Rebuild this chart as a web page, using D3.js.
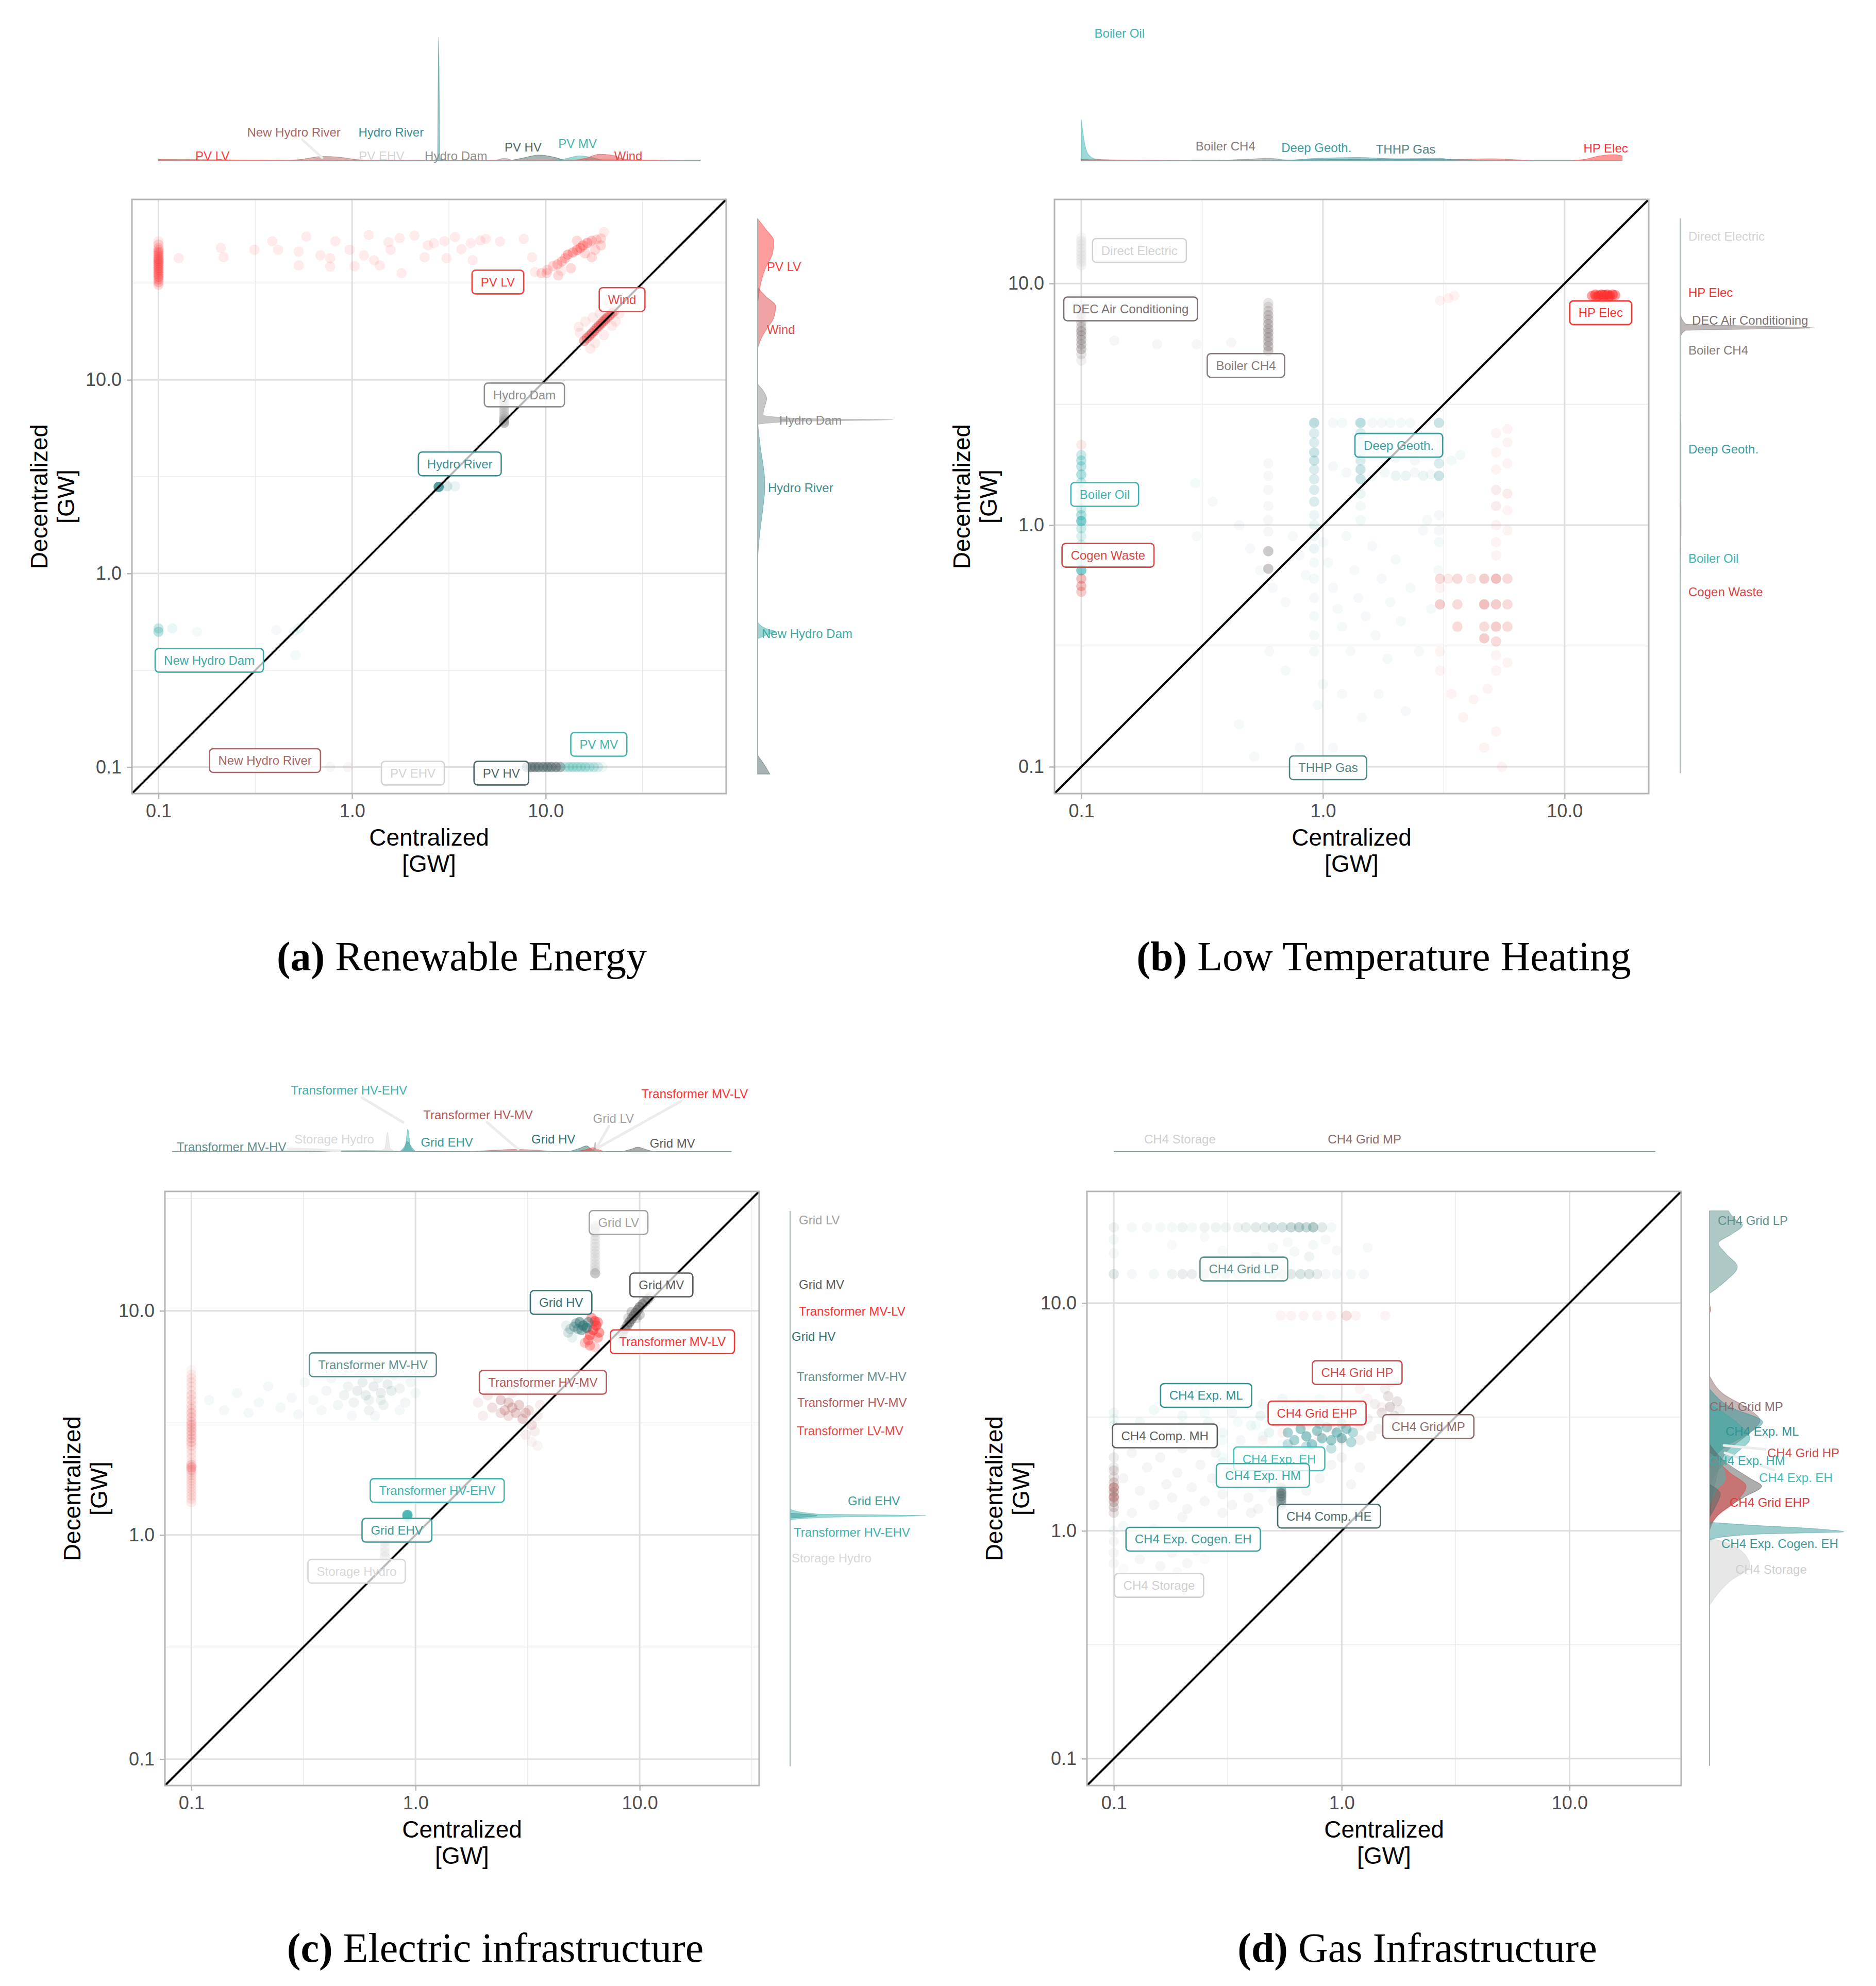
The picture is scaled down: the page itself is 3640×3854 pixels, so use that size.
<!DOCTYPE html>
<html>
<head>
<meta charset="utf-8">
<script src="https://cdn.jsdelivr.net/npm/d3@7"></script>
<style>
  body { margin: 0; background: #fff; }
  svg text { font-family: "Liberation Sans", Arial, sans-serif; }
</style>
</head>
<body>
<svg id="chart" width="3640" height="3854"></svg>
<script>
// ---------- data ----------
const ticks = [0.1, 1, 10]
const tickText = ['0.1', '1.0', '10.0']

// (a) renewable energy: [category, centralized GW, decentralized GW, overlapping runs]
const renewCats = ['PV LV', 'Wind', 'Hydro Dam', 'Hydro River', 'New Hydro Dam', 'New Hydro River', 'PV EHV', 'PV HV', 'PV MV']
const renewPoints = [
  ['PV LV',0.1,31,2],['PV LV',0.1,32,3],['PV LV',0.1,33,3],['PV LV',0.1,34,4],['PV LV',0.1,35,4],['PV LV',0.1,36,4],['PV LV',0.1,37,4],
  ['PV LV',0.1,38,4],['PV LV',0.1,39,4],['PV LV',0.1,40,4],['PV LV',0.1,41,4],['PV LV',0.1,42,4],['PV LV',0.1,43,3],['PV LV',0.1,44,3],
  ['PV LV',0.1,45,3],['PV LV',0.1,46,3],['PV LV',0.1,47,2],['PV LV',0.1,48,2],['PV LV',0.1,50,2],['PV LV',0.1,52,1],
  ['PV LV',0.127,42.5,1],['PV LV',0.21,48,1],['PV LV',0.217,43,1],['PV LV',0.313,47,1],['PV LV',0.387,52,1],['PV LV',0.415,47,1],
  ['PV LV',0.53,46,1],['PV LV',0.53,39,1],['PV LV',0.58,55,1],['PV LV',0.686,44,1],['PV LV',0.77,42.5,1],['PV LV',0.77,38.5,1],
  ['PV LV',0.82,52,1],['PV LV',0.97,47,1],['PV LV',1.03,38.7,1],['PV LV',1.15,44,1],['PV LV',1.22,56,1],['PV LV',1.3,41.5,1],
  ['PV LV',1.39,39,1],['PV LV',1.54,51.5,1],['PV LV',1.58,47,1],['PV LV',1.76,54,1],['PV LV',1.8,35.6,1],['PV LV',2.1,55.6,1],
  ['PV LV',2.37,43,1],['PV LV',2.46,49.5,1],['PV LV',2.64,50.8,1],['PV LV',3.0,52,1],['PV LV',3.07,42.5,1],['PV LV',3.4,54.7,1],
  ['PV LV',3.67,47.3,1],['PV LV',4.1,50.8,1],['PV LV',4.2,41.5,1],['PV LV',4.6,52.5,1],['PV LV',4.9,53.5,1],['PV LV',5.8,51.8,1],
  ['PV LV',7.7,53.5,1],['PV LV',8.5,43,1],['PV LV',8.8,36,1],['PV LV',9.5,35.6,2],['PV LV',10.2,37,2],['PV LV',10.9,38.7,2],
  ['PV LV',11.5,39.5,3],['PV LV',12.1,40.9,3],['PV LV',12.6,42.5,3],['PV LV',13,44.3,4],['PV LV',13.8,45.5,4],['PV LV',14.5,46.8,4],
  ['PV LV',15.1,48,4],['PV LV',15.6,49.5,4],['PV LV',16.4,51,4],['PV LV',17.3,52.3,3],['PV LV',18.3,53,2],['PV LV',19.3,53.7,2],
  ['PV LV',19.3,49.5,2],['PV LV',17.3,43,2],['PV LV',16,45,2],['PV LV',13.5,37.7,2],['PV LV',11.6,34.6,2],['PV LV',10.1,35.6,2],
  ['PV LV',14.5,52.3,2],['PV LV',20,58,1],['PV LV',18,47,2],['PV LV',12,36.5,1],
  ['Wind',15.8,15.9,5],['Wind',16.3,16.4,5],['Wind',16.8,16.9,6],['Wind',17.3,17.4,6],['Wind',17.8,17.9,6],['Wind',18.3,18.5,6],
  ['Wind',18.8,19,6],['Wind',19.3,19.5,6],['Wind',19.8,20,6],['Wind',20.3,20.5,6],['Wind',20.8,21,5],['Wind',21.4,21.5,5],
  ['Wind',22,22.1,4],['Wind',22.6,22.6,3],
  ['Wind',15,17.5,1],['Wind',14.8,18.8,1],['Wind',16,20,1],['Wind',18,15.5,1],['Wind',20,17,1],['Wind',22,19,1],['Wind',21,25,1],
  ['Wind',17,14.5,1],['Wind',19,22,1],['Wind',23,20,1],['Wind',17.5,21,1],['Wind',24,22,1],
  ['Hydro Dam',6.1,6.0,8],['Hydro Dam',6.1,6.15,5],['Hydro Dam',6.1,6.3,4],['Hydro Dam',6.1,6.5,3],['Hydro Dam',6.1,6.7,2],
  ['Hydro Dam',6.1,6.9,2],['Hydro Dam',6.1,7.1,2],['Hydro Dam',6.1,7.3,2],['Hydro Dam',6.1,7.5,2],['Hydro Dam',6.1,7.7,2],
  ['Hydro Dam',6.1,7.9,2],['Hydro Dam',6.1,8.1,1],
  ['Hydro River',2.8,2.8,20],['Hydro River',3.1,2.82,2],['Hydro River',3.4,2.82,1],
  ['New Hydro Dam',0.1,0.5,4],['New Hydro Dam',0.1,0.52,3],['New Hydro Dam',0.118,0.52,1],['New Hydro Dam',0.158,0.5,0.6],
  ['New Hydro Dam',0.407,0.51,0.6],['New Hydro Dam',0.5,0.5,0.6],['New Hydro Dam',0.53,0.52,1],['New Hydro Dam',0.51,0.378,0.6],
  ['New Hydro River',0.6,0.1,0.6],['New Hydro River',0.77,0.1,0.6],['New Hydro River',0.95,0.1,0.6],
  ['PV EHV',1.6,0.1,1],['PV EHV',2.2,0.1,1],
  ['PV HV',8.0,0.1,6],['PV HV',8.4,0.1,8],['PV HV',8.8,0.1,8],['PV HV',9.2,0.1,8],['PV HV',9.7,0.1,8],['PV HV',10.2,0.1,8],
  ['PV HV',10.7,0.1,8],['PV HV',11.3,0.1,8],['PV HV',11.9,0.1,6],
  ['PV MV',12.6,0.1,3],['PV MV',13.2,0.1,4],['PV MV',13.8,0.1,4],['PV MV',14.5,0.1,4],['PV MV',15.2,0.1,4],['PV MV',16,0.1,4],
  ['PV MV',16.8,0.1,3],['PV MV',17.7,0.1,3],['PV MV',18.6,0.1,2],['PV MV',19.6,0.1,1]
]
// marginal densities: [category, value, relative density]
const renewTop = [
  ['PV LV',0.1,0.012],['PV LV',0.3,0.006],['PV LV',1,0.004],['PV LV',3,0.003],['PV LV',10,0.006],['PV LV',20,0.008],['PV LV',63,0],
  ['New Hydro River',0.45,0],['New Hydro River',0.55,0.012],['New Hydro River',0.7,0.035],['New Hydro River',0.85,0.03],['New Hydro River',1.05,0.01],['New Hydro River',1.3,0],
  ['Hydro River',2.6,0],['Hydro River',2.76,0.02],['Hydro River',2.8,1],['Hydro River',2.84,0.02],['Hydro River',3.0,0],
  ['Hydro Dam',5.5,0],['Hydro Dam',6.1,0.02],['Hydro Dam',6.8,0],
  ['PV HV',6.5,0],['PV HV',7.5,0.02],['PV HV',9.2,0.046],['PV HV',11,0.03],['PV HV',12.5,0.005],['PV HV',13,0],
  ['PV MV',11,0],['PV MV',12.5,0.015],['PV MV',15,0.04],['PV MV',17.5,0.025],['PV MV',20,0],
  ['Wind',14,0],['Wind',16,0.02],['Wind',19,0.053],['Wind',22,0.045],['Wind',26,0.01],['Wind',35,0.003],['Wind',63,0]
]
const renewSide = [
  ['PV LV',68,0],['PV LV',60,0.06],['PV LV',52,0.12],['PV LV',45,0.11],['PV LV',38,0.06],['PV LV',32,0.025],['PV LV',28,0.01],['PV LV',25,0],
  ['Wind',30,0],['Wind',27,0.06],['Wind',24,0.133],['Wind',21,0.12],['Wind',18,0.06],['Wind',16,0.02],['Wind',14.5,0],
  ['Hydro Dam',9.5,0],['Hydro Dam',8.6,0.05],['Hydro Dam',8.0,0.067],['Hydro Dam',7.2,0.05],['Hydro Dam',6.6,0.04],['Hydro Dam',6.32,0.3],
  ['Hydro Dam',6.22,1],['Hydro Dam',6.12,0.3],['Hydro Dam',5.9,0],
  ['Hydro River',6,0],['Hydro River',4.5,0.02],['Hydro River',3.2,0.05],['Hydro River',2.8,0.053],['Hydro River',2.2,0.04],['Hydro River',1.6,0.015],['Hydro River',1.2,0],
  ['New Hydro Dam',0.56,0],['New Hydro Dam',0.52,0.06],['New Hydro Dam',0.5,0.133],['New Hydro Dam',0.48,0.06],['New Hydro Dam',0.46,0],
  ['PV HV',0.115,0],['PV HV',0.1,0.06],['PV HV',0.092,0.09]
]

// (b) low temperature heating
const heatCats = ['Direct Electric', 'DEC Air Conditioning', 'Boiler CH4', 'HP Elec', 'Deep Geoth.', 'Boiler Oil', 'Cogen Waste', 'THHP Gas']
const heatPoints = [
  ['THHP Gas',0.45,1.0,0.5],['THHP Gas',0.5,0.8,0.5],['THHP Gas',0.55,0.65,0.5],['THHP Gas',0.62,0.55,0.5],['THHP Gas',0.7,0.48,0.5],['THHP Gas',0.75,0.9,0.5],
  ['THHP Gas',0.8,0.75,0.5],['THHP Gas',0.85,0.62,0.5],['THHP Gas',1.0,0.85,0.5],['THHP Gas',1.05,0.7,0.5],['THHP Gas',1.1,0.55,0.5],['THHP Gas',1.15,0.45,0.5],
  ['THHP Gas',1.2,0.38,0.5],['THHP Gas',1.25,0.9,0.5],['THHP Gas',1.3,0.3,0.5],['THHP Gas',1.35,0.65,0.5],['THHP Gas',1.4,0.5,0.5],['THHP Gas',1.5,0.42,0.5],
  ['THHP Gas',1.6,0.82,0.5],['THHP Gas',1.65,0.35,0.5],['THHP Gas',1.75,0.6,0.5],['THHP Gas',1.85,0.28,0.5],['THHP Gas',1.9,0.48,0.5],['THHP Gas',2.0,0.72,0.5],
  ['THHP Gas',2.1,0.4,0.5],['THHP Gas',2.3,0.55,0.5],['THHP Gas',2.5,0.3,0.5],['THHP Gas',2.6,0.95,0.5],['THHP Gas',2.8,0.45,0.5],['THHP Gas',3.0,0.65,0.5],
  ['THHP Gas',1.0,0.22,0.5],['THHP Gas',0.95,0.18,0.5],['THHP Gas',1.2,0.2,0.5],['THHP Gas',0.7,0.25,0.5],['THHP Gas',0.6,0.3,0.5],['THHP Gas',1.45,0.16,0.5],
  ['THHP Gas',1.7,0.2,0.5],['THHP Gas',2.2,0.17,0.5],['THHP Gas',0.52,0.11,0.5],['THHP Gas',0.8,0.12,0.5],['THHP Gas',1.1,0.12,0.5],['THHP Gas',0.45,0.15,0.5],
  ['THHP Gas',0.4,0.4,0.5],['THHP Gas',0.35,1.25,0.5],['THHP Gas',2.7,1.05,0.5],['THHP Gas',0.3,0.9,0.5],
  ['Direct Electric',0.1,11.9,3],['Direct Electric',0.1,12.3,3],['Direct Electric',0.1,12.7,3],['Direct Electric',0.1,13.1,3],['Direct Electric',0.1,13.5,3],
  ['Direct Electric',0.1,14,3],['Direct Electric',0.1,14.5,3],['Direct Electric',0.1,15,3],['Direct Electric',0.1,15.5,2],
  ['DEC Air Conditioning',0.1,4.8,1],['DEC Air Conditioning',0.1,5.1,2],['DEC Air Conditioning',0.1,5.35,4],['DEC Air Conditioning',0.1,5.6,4],
  ['DEC Air Conditioning',0.1,5.85,4],['DEC Air Conditioning',0.1,6.1,4],['DEC Air Conditioning',0.1,6.35,5],['DEC Air Conditioning',0.1,6.6,3],
  ['DEC Air Conditioning',0.1,6.9,3],['DEC Air Conditioning',0.1,7.2,2],['DEC Air Conditioning',0.1,7.5,2],['DEC Air Conditioning',0.1,7.8,2],
  ['DEC Air Conditioning',0.1,8.1,1],['DEC Air Conditioning',0.137,5.8,0.6],['DEC Air Conditioning',0.206,5.6,0.6],
  ['DEC Air Conditioning',0.3,5.6,0.6],['DEC Air Conditioning',0.417,5.7,0.6],
  ['Boiler CH4',0.594,5.25,5],['Boiler CH4',0.594,5.5,5],['Boiler CH4',0.594,5.75,5],['Boiler CH4',0.594,6.0,5],['Boiler CH4',0.594,6.25,5],
  ['Boiler CH4',0.594,6.5,5],['Boiler CH4',0.594,6.8,5],['Boiler CH4',0.594,7.1,4],['Boiler CH4',0.594,7.4,4],['Boiler CH4',0.594,7.7,3],
  ['Boiler CH4',0.594,8.0,2],['Boiler CH4',0.594,8.3,2],['Boiler CH4',0.594,1.8,0.6],['Boiler CH4',0.594,1.6,0.6],
  ['Boiler CH4',0.594,1.4,0.6],['Boiler CH4',0.594,1.2,0.6],['Boiler CH4',0.594,1.05,0.6],['Boiler CH4',0.594,0.94,0.6],['Boiler CH4',0.594,0.78,5],['Boiler CH4',0.594,0.66,5],
  ['HP Elec',13.0,8.9,6],['HP Elec',13.4,9.0,8],['HP Elec',13.8,8.9,10],['HP Elec',14.2,9.0,10],['HP Elec',14.6,8.95,10],['HP Elec',15.0,9.0,10],
  ['HP Elec',15.4,8.9,10],['HP Elec',15.8,9.0,8],['HP Elec',16.2,8.95,6],['HP Elec',14.4,8.7,5],['HP Elec',15.2,8.75,5],
  ['HP Elec',13.5,8.8,5],['HP Elec',3.05,8.5,0.6],['HP Elec',3.3,8.7,0.6],['HP Elec',3.5,8.9,0.6],
  ['Deep Geoth.',0.92,2.65,4],['Deep Geoth.',0.92,2.4,2],['Deep Geoth.',0.92,2.2,2],['Deep Geoth.',0.92,2.0,3],['Deep Geoth.',0.92,1.85,3],
  ['Deep Geoth.',0.92,1.7,2],['Deep Geoth.',0.92,1.55,2],['Deep Geoth.',0.92,1.4,2],['Deep Geoth.',0.92,1.25,2],['Deep Geoth.',0.92,1.1,1],
  ['Deep Geoth.',0.92,1.0,1],['Deep Geoth.',0.92,0.9,1],['Deep Geoth.',0.92,0.8,1],['Deep Geoth.',0.92,0.7,0.6],['Deep Geoth.',0.92,0.6,0.6],
  ['Deep Geoth.',0.92,0.5,0.6],['Deep Geoth.',0.92,0.42,0.6],['Deep Geoth.',0.92,0.35,0.6],['Deep Geoth.',0.92,0.3,0.6],
  ['Deep Geoth.',1.43,2.65,4],['Deep Geoth.',1.43,2.4,2],['Deep Geoth.',1.43,2.2,2],['Deep Geoth.',1.43,2.0,2],['Deep Geoth.',1.43,1.85,2],
  ['Deep Geoth.',1.43,1.7,3],['Deep Geoth.',1.43,1.55,3],['Deep Geoth.',1.43,1.35,1],['Deep Geoth.',1.43,1.2,0.6],['Deep Geoth.',1.43,1.05,0.6],
  ['Deep Geoth.',3.02,2.65,3],['Deep Geoth.',3.02,2.3,1],['Deep Geoth.',3.02,2.0,1],['Deep Geoth.',3.02,1.8,2],['Deep Geoth.',3.02,1.6,3],
  ['Deep Geoth.',3.02,1.1,0.6],['Deep Geoth.',3.02,0.95,0.6],['Deep Geoth.',3.02,0.85,0.6],
  ['Deep Geoth.',1.1,2.65,0.6],['Deep Geoth.',1.2,2.65,0.6],['Deep Geoth.',1.6,2.65,0.6],['Deep Geoth.',1.75,2.65,0.6],['Deep Geoth.',1.9,2.65,0.6],
  ['Deep Geoth.',2.1,2.65,0.6],['Deep Geoth.',2.3,2.65,0.6],['Deep Geoth.',1.1,1.75,0.6],['Deep Geoth.',1.25,1.65,0.6],['Deep Geoth.',1.6,1.6,0.6],
  ['Deep Geoth.',1.8,1.65,0.6],['Deep Geoth.',2.0,1.6,1],['Deep Geoth.',2.2,1.6,1],['Deep Geoth.',2.4,1.65,0.6],['Deep Geoth.',2.6,1.6,1],
  ['Deep Geoth.',2.8,1.62,0.6],['Deep Geoth.',2.4,1.85,0.6],['Deep Geoth.',2.0,1.9,0.6],['Deep Geoth.',3.7,1.95,0.6],['Deep Geoth.',3.4,1.85,0.6],
  ['Boiler Oil',0.1,1.95,3],['Boiler Oil',0.1,1.85,4],['Boiler Oil',0.1,1.75,4],['Boiler Oil',0.1,1.62,5],['Boiler Oil',0.1,1.5,3],
  ['Boiler Oil',0.1,1.38,2],['Boiler Oil',0.1,1.27,2],['Boiler Oil',0.1,1.17,3],['Boiler Oil',0.1,1.1,5],['Boiler Oil',0.1,1.04,10],
  ['Boiler Oil',0.1,0.97,3],['Boiler Oil',0.1,0.9,2],['Boiler Oil',0.1,0.83,2],['Boiler Oil',0.1,0.76,2],['Boiler Oil',0.1,0.7,3],
  ['Boiler Oil',0.1,0.65,10],['Boiler Oil',0.296,1.49,0.6],
  ['Cogen Waste',0.1,2.15,1],['Cogen Waste',0.1,0.6,4],['Cogen Waste',0.1,0.56,4],['Cogen Waste',0.1,0.53,3],
  ['Cogen Waste',3.05,0.6,2],['Cogen Waste',3.3,0.6,1],['Cogen Waste',3.6,0.6,2],['Cogen Waste',4.1,0.6,1],['Cogen Waste',4.65,0.6,3],
  ['Cogen Waste',5.2,0.6,4],['Cogen Waste',5.8,0.6,2],['Cogen Waste',3.05,0.47,3],['Cogen Waste',3.6,0.47,2],['Cogen Waste',4.65,0.47,4],
  ['Cogen Waste',5.2,0.47,3],['Cogen Waste',5.8,0.47,2],['Cogen Waste',3.6,0.38,2],['Cogen Waste',4.65,0.38,2],['Cogen Waste',5.2,0.38,3],
  ['Cogen Waste',5.8,0.38,2],['Cogen Waste',4.65,0.34,3],['Cogen Waste',5.2,0.33,2],
  ['Cogen Waste',5.2,2.4,0.6],['Cogen Waste',5.2,2.0,0.6],['Cogen Waste',5.2,1.7,0.6],['Cogen Waste',5.2,1.4,1],['Cogen Waste',5.2,1.2,1],
  ['Cogen Waste',5.2,1.0,0.6],['Cogen Waste',5.2,0.85,0.6],['Cogen Waste',5.2,0.75,0.6],['Cogen Waste',5.2,0.29,0.6],['Cogen Waste',5.2,0.25,0.6],
  ['Cogen Waste',5.2,0.14,0.6],['Cogen Waste',5.8,2.5,0.6],['Cogen Waste',5.8,2.2,0.6],['Cogen Waste',5.8,1.8,0.6],['Cogen Waste',5.8,1.35,1],
  ['Cogen Waste',5.8,1.15,0.6],['Cogen Waste',5.8,0.95,0.6],['Cogen Waste',5.8,0.27,0.6],['Cogen Waste',4.2,0.19,0.6],['Cogen Waste',4.8,0.21,0.6],
  ['Cogen Waste',3.8,0.16,0.6],['Cogen Waste',4.65,0.12,0.6],['Cogen Waste',3.4,0.2,0.6],['Cogen Waste',5.5,0.1,0.6],['Cogen Waste',3.05,0.25,0.6],
  ['Cogen Waste',3.05,0.3,0.6],['Cogen Waste',3.05,0.55,0.6]
]
const heatTop = [
  ['Boiler Oil',0.1,1],['Boiler Oil',0.103,0.45],['Boiler Oil',0.107,0.15],['Boiler Oil',0.115,0.04],['Boiler Oil',0.15,0.01],['Boiler Oil',0.3,0],
  ['Cogen Waste',0.1,0.03],['Cogen Waste',0.2,0.01],['Cogen Waste',0.5,0],
  ['Boiler CH4',0.35,0],['Boiler CH4',0.5,0.04],['Boiler CH4',0.6,0.06],['Boiler CH4',0.7,0.02],['Boiler CH4',0.9,0],
  ['THHP Gas',0.4,0],['THHP Gas',1,0.03],['THHP Gas',2,0.04],['THHP Gas',4,0.02],['THHP Gas',6,0],
  ['Deep Geoth.',0.7,0],['Deep Geoth.',0.95,0.06],['Deep Geoth.',1.4,0.08],['Deep Geoth.',2,0.05],['Deep Geoth.',3,0.06],['Deep Geoth.',3.6,0],
  ['Cogen Waste',2.5,0],['Cogen Waste',3.5,0.03],['Cogen Waste',5,0.05],['Cogen Waste',6.5,0.02],['Cogen Waste',8,0],
  ['HP Elec',10,0],['HP Elec',12,0.03],['HP Elec',14,0.12],['HP Elec',16,0.15],['HP Elec',17.3,0.12]
]
const heatSide = [
  ['DEC Air Conditioning',7.5,0],['DEC Air Conditioning',6.8,0.04],['DEC Air Conditioning',6.55,1],['DEC Air Conditioning',6.4,0.04],['DEC Air Conditioning',6,0],
  ['Deep Geoth.',3,0],['Deep Geoth.',2.6,0.006],['Deep Geoth.',1,0.006],['Deep Geoth.',0.36,0],
  ['Cogen Waste',1.3,0],['Cogen Waste',1.2,0.006],['Cogen Waste',0.8,0.006],['Cogen Waste',0.75,0]
]

// (c) electric infrastructure
const gridCats = ['Grid LV', 'Grid MV', 'Grid HV', 'Transformer MV-LV', 'Transformer MV-HV', 'Transformer HV-MV', 'Transformer LV-MV', 'Transformer HV-EHV', 'Grid EHV', 'Storage Hydro']
const gridPoints = [
  ['Transformer MV-HV',0.12,4.0,0.6],['Transformer MV-HV',0.14,3.6,0.6],['Transformer MV-HV',0.16,4.3,0.6],['Transformer MV-HV',0.18,3.5,0.6],
  ['Transformer MV-HV',0.2,3.9,0.6],['Transformer MV-HV',0.22,4.6,0.6],['Transformer MV-HV',0.25,3.7,0.6],['Transformer MV-HV',0.28,4.1,0.6],
  ['Transformer MV-HV',0.3,3.45,0.6],['Transformer MV-HV',0.32,4.8,0.6],['Transformer MV-HV',0.35,4.0,0.6],['Transformer MV-HV',0.38,3.6,0.6],
  ['Transformer MV-HV',0.4,4.4,0.8],['Transformer MV-HV',0.42,5.0,0.6],['Transformer MV-HV',0.45,3.8,0.8],['Transformer MV-HV',0.48,4.2,1],
  ['Transformer MV-HV',0.5,4.6,1],['Transformer MV-HV',0.53,3.9,1],['Transformer MV-HV',0.55,4.4,1.5],['Transformer MV-HV',0.58,4.8,1.5],
  ['Transformer MV-HV',0.6,4.2,1.5],['Transformer MV-HV',0.62,3.6,1],['Transformer MV-HV',0.65,4.6,1.5],['Transformer MV-HV',0.68,5.0,1],
  ['Transformer MV-HV',0.7,4.3,1.5],['Transformer MV-HV',0.72,3.8,1],['Transformer MV-HV',0.75,4.7,1.5],['Transformer MV-HV',0.78,4.4,1.5],
  ['Transformer MV-HV',0.8,5.2,1],['Transformer MV-HV',0.85,4.5,1],['Transformer MV-HV',0.9,3.9,0.8],['Transformer MV-HV',0.95,4.8,0.8],
  ['Transformer MV-HV',1.0,4.3,0.6],['Transformer MV-HV',1.1,5.3,0.6],['Transformer MV-HV',0.52,3.4,0.6],['Transformer MV-HV',0.66,3.4,0.6],
  ['Transformer MV-HV',0.85,3.6,0.6],['Transformer MV-HV',0.9,5.6,0.6],['Transformer MV-HV',0.62,4.0,1],['Transformer MV-HV',0.7,4.0,1],
  ['Transformer HV-MV',1.9,3.9,1],['Transformer HV-MV',2.1,4.2,1.5],['Transformer HV-MV',2.2,3.7,2],['Transformer HV-MV',2.4,4.0,3],
  ['Transformer HV-MV',2.5,3.6,3],['Transformer HV-MV',2.6,3.9,3],['Transformer HV-MV',2.7,3.7,3],['Transformer HV-MV',2.8,3.5,3],
  ['Transformer HV-MV',2.9,3.8,3],['Transformer HV-MV',3.0,3.3,3],['Transformer HV-MV',3.1,3.5,3],['Transformer HV-MV',3.2,3.6,2],
  ['Transformer HV-MV',3.3,3.1,2],['Transformer HV-MV',3.5,3.4,1],['Transformer HV-MV',2.6,3.4,2],['Transformer HV-MV',2.4,3.5,2],
  ['Transformer HV-MV',3.4,2.9,1],['Transformer HV-MV',3.1,2.8,1],['Transformer HV-MV',2.3,4.4,1],['Transformer HV-MV',2.7,4.3,1],
  ['Transformer HV-MV',3.6,3.8,1],['Transformer HV-MV',2.0,3.4,1],['Transformer HV-MV',3.3,2.6,0.6],['Transformer HV-MV',3.5,2.5,0.6],
  ['Transformer LV-MV',0.1,1.4,1],['Transformer LV-MV',0.1,1.45,1],['Transformer LV-MV',0.1,1.5,1],['Transformer LV-MV',0.1,1.55,1],
  ['Transformer LV-MV',0.1,1.6,1],['Transformer LV-MV',0.1,1.65,1],['Transformer LV-MV',0.1,1.7,1],['Transformer LV-MV',0.1,1.75,1],
  ['Transformer LV-MV',0.1,1.8,1],['Transformer LV-MV',0.1,1.85,1],['Transformer LV-MV',0.1,1.9,1],['Transformer LV-MV',0.1,1.95,2],
  ['Transformer LV-MV',0.1,2.0,3],['Transformer LV-MV',0.1,2.05,2],['Transformer LV-MV',0.1,2.1,1],['Transformer LV-MV',0.1,2.2,1],
  ['Transformer LV-MV',0.1,2.3,1],['Transformer LV-MV',0.1,2.4,1],['Transformer LV-MV',0.1,2.5,1.5],['Transformer LV-MV',0.1,2.6,2],
  ['Transformer LV-MV',0.1,2.7,2],['Transformer LV-MV',0.1,2.8,2],['Transformer LV-MV',0.1,2.9,2],['Transformer LV-MV',0.1,3.0,2],
  ['Transformer LV-MV',0.1,3.1,2],['Transformer LV-MV',0.1,3.2,2],['Transformer LV-MV',0.1,3.35,2],['Transformer LV-MV',0.1,3.5,2],
  ['Transformer LV-MV',0.1,3.65,1.5],['Transformer LV-MV',0.1,3.8,1.5],['Transformer LV-MV',0.1,4.0,1.5],['Transformer LV-MV',0.1,4.2,1.5],
  ['Transformer LV-MV',0.1,4.4,1],['Transformer LV-MV',0.1,4.6,1],['Transformer LV-MV',0.1,4.8,1],['Transformer LV-MV',0.1,5.0,1],
  ['Transformer LV-MV',0.1,5.2,0.7],['Transformer LV-MV',0.1,5.45,0.5],
  ['Grid LV',6.33,14.7,8],['Grid LV',6.33,15.2,2],['Grid LV',6.33,15.7,1.5],['Grid LV',6.33,16.2,1.5],['Grid LV',6.33,16.8,1.5],
  ['Grid LV',6.33,17.4,1.5],['Grid LV',6.33,18,1.5],['Grid LV',6.33,18.6,1.5],['Grid LV',6.33,19.3,1.5],['Grid LV',6.33,20,1.5],
  ['Grid LV',6.33,20.8,1.5],['Grid LV',6.33,21.6,1.5],['Grid LV',6.33,22.4,2],['Grid LV',6.33,23.3,3],['Grid LV',6.33,24,3],
  ['Grid MV',8.2,7.6,2],['Grid MV',8.4,8.0,3],['Grid MV',8.6,8.3,5],['Grid MV',8.8,8.6,6],['Grid MV',9.0,8.9,7],['Grid MV',9.2,9.2,7],
  ['Grid MV',9.4,9.5,7],['Grid MV',9.6,9.8,7],['Grid MV',9.8,10.1,7],['Grid MV',10.0,10.4,7],['Grid MV',10.3,10.7,6],['Grid MV',10.6,11.0,5],
  ['Grid MV',10.9,11.3,4],['Grid MV',11.2,11.6,2],['Grid MV',10.0,9.6,3],['Grid MV',9.2,9.9,3],['Grid MV',8.9,9.3,2],['Grid MV',9.7,9.3,2],
  ['Transformer MV-LV',6.1,9.3,5],['Transformer MV-LV',6.3,9.0,8],['Transformer MV-LV',6.4,8.6,8],['Transformer MV-LV',6.2,8.2,8],
  ['Transformer MV-LV',6.0,7.8,7],['Transformer MV-LV',5.9,7.4,5],['Transformer MV-LV',6.0,7.0,4],['Transformer MV-LV',6.5,7.6,4],
  ['Transformer MV-LV',6.6,8.0,6],['Transformer MV-LV',5.7,7.2,3],['Transformer MV-LV',6.3,6.9,2],['Transformer MV-LV',6.5,8.9,5],
  ['Grid HV',5.1,8.5,4],['Grid HV',5.4,8.9,7],['Grid HV',5.6,8.6,9],['Grid HV',5.8,8.4,9],['Grid HV',5.5,8.2,6],['Grid HV',5.2,8.8,4],
  ['Grid HV',5.9,8.9,6],['Grid HV',4.8,8.0,2],['Grid HV',4.7,8.6,1],['Grid HV',5.0,7.6,1],['Grid HV',4.9,8.3,2],['Grid HV',5.3,8.3,4],
  ['Storage Hydro',0.73,0.8,4],['Storage Hydro',0.73,0.84,3],['Storage Hydro',0.73,0.88,3],['Storage Hydro',0.73,0.93,3],['Storage Hydro',0.73,0.97,2],
  ['Grid EHV',0.92,1.22,6],['Transformer HV-EHV',0.92,1.23,14],['Transformer HV-EHV',0.92,1.2,4]
]
const gridTop = [
  ['Transformer MV-HV',0.1,0],['Transformer MV-HV',0.15,0.02],['Transformer MV-HV',0.3,0.04],['Transformer MV-HV',0.6,0.05],['Transformer MV-HV',0.8,0.03],['Transformer MV-HV',0.9,0],
  ['Storage Hydro',0.68,0],['Storage Hydro',0.73,0.15],['Storage Hydro',0.75,0.85],['Storage Hydro',0.77,0.15],['Storage Hydro',0.82,0],
  ['Transformer HV-EHV',0.86,0],['Transformer HV-EHV',0.9,0.2],['Transformer HV-EHV',0.924,1],['Transformer HV-EHV',0.95,0.2],['Transformer HV-EHV',0.99,0],
  ['Grid EHV',0.85,0],['Grid EHV',0.89,0.2],['Grid EHV',0.92,0.45],['Grid EHV',0.96,0.2],['Grid EHV',1.0,0],
  ['Transformer HV-MV',1.7,0],['Transformer HV-MV',2.2,0.06],['Transformer HV-MV',2.8,0.1],['Transformer HV-MV',3.4,0.07],['Transformer HV-MV',4.2,0],
  ['Grid HV',4.8,0],['Grid HV',5.4,0.15],['Grid HV',5.8,0.26],['Grid HV',6.1,0.1],['Grid HV',6.4,0],
  ['Transformer MV-LV',5.2,0],['Transformer MV-LV',5.8,0.1],['Transformer MV-LV',6.2,0.18],['Transformer MV-LV',6.6,0.08],['Transformer MV-LV',7,0],
  ['Grid LV',6.0,0],['Grid LV',6.25,0.15],['Grid LV',6.33,0.43],['Grid LV',6.42,0.15],['Grid LV',6.6,0],
  ['Grid MV',8.3,0],['Grid MV',9.2,0.12],['Grid MV',9.8,0.2],['Grid MV',10.5,0.12],['Grid MV',11.5,0]
]
const gridSide = [
  ['Transformer HV-EHV',1.3,0],['Transformer HV-EHV',1.24,0.2],['Transformer HV-EHV',1.22,1],['Transformer HV-EHV',1.2,0.3],['Transformer HV-EHV',1.17,0],
  ['Grid EHV',1.25,0],['Grid EHV',1.22,0.2],['Grid EHV',1.19,0]
]

// (d) gas infrastructure
const gasCats = ['CH4 Grid LP', 'CH4 Grid HP', 'CH4 Exp. ML', 'CH4 Grid EHP', 'CH4 Grid MP', 'CH4 Comp. MH', 'CH4 Exp. EH', 'CH4 Exp. HM', 'CH4 Comp. HE', 'CH4 Exp. Cogen. EH', 'CH4 Storage']
const gasPoints = [
  ['CH4 Storage',0.1,0.9,2],['CH4 Storage',0.1,0.8,2],['CH4 Storage',0.1,0.72,2],['CH4 Storage',0.12,0.85,2],['CH4 Storage',0.13,0.75,2],
  ['CH4 Storage',0.15,0.88,2],['CH4 Storage',0.16,0.7,2],['CH4 Storage',0.18,0.8,2],['CH4 Storage',0.2,0.9,2],['CH4 Storage',0.21,0.72,2],
  ['CH4 Storage',0.23,0.82,2],['CH4 Storage',0.14,0.95,1],['CH4 Storage',0.19,0.66,1],['CH4 Storage',0.25,0.75,1],['CH4 Storage',0.11,0.68,1],
  ['CH4 Grid LP',0.1,21.5,1],['CH4 Grid LP',0.12,21.5,0.6],['CH4 Grid LP',0.14,21.5,0.6],['CH4 Grid LP',0.16,21.5,0.6],['CH4 Grid LP',0.18,21.5,0.6],
  ['CH4 Grid LP',0.2,21.5,1],['CH4 Grid LP',0.22,21.5,0.6],['CH4 Grid LP',0.25,21.5,1],['CH4 Grid LP',0.28,21.5,1],['CH4 Grid LP',0.31,21.5,1],
  ['CH4 Grid LP',0.35,21.5,1],['CH4 Grid LP',0.38,21.5,1.5],['CH4 Grid LP',0.42,21.5,2],['CH4 Grid LP',0.46,21.5,2],['CH4 Grid LP',0.5,21.5,3],
  ['CH4 Grid LP',0.55,21.5,3],['CH4 Grid LP',0.6,21.5,4],['CH4 Grid LP',0.65,21.5,5],['CH4 Grid LP',0.7,21.5,4],['CH4 Grid LP',0.75,21.5,6],
  ['CH4 Grid LP',0.82,21.5,2],['CH4 Grid LP',0.9,21.5,0.6],
  ['CH4 Grid LP',0.1,13.4,2],['CH4 Grid LP',0.12,13.4,0.6],['CH4 Grid LP',0.15,13.4,0.6],['CH4 Grid LP',0.18,13.4,1],['CH4 Grid LP',0.2,13.4,1.5],
  ['CH4 Grid LP',0.22,13.4,1.5],['CH4 Grid LP',0.25,13.4,2],['CH4 Grid LP',0.28,13.4,2],['CH4 Grid LP',0.31,13.4,2],['CH4 Grid LP',0.35,13.4,1.5],
  ['CH4 Grid LP',0.4,13.4,1.5],['CH4 Grid LP',0.45,13.4,1.5],['CH4 Grid LP',0.5,13.4,2],['CH4 Grid LP',0.55,13.4,2],['CH4 Grid LP',0.6,13.4,2],
  ['CH4 Grid LP',0.66,13.4,2.5],['CH4 Grid LP',0.72,13.4,2.5],['CH4 Grid LP',0.78,13.4,1.5],['CH4 Grid LP',0.85,13.4,0.6],['CH4 Grid LP',0.95,13.4,0.6],
  ['CH4 Grid LP',1.1,13.4,0.6],['CH4 Grid LP',1.25,13.4,0.6],
  ['CH4 Grid LP',0.1,16.5,0.6],['CH4 Grid LP',0.1,19,0.6],['CH4 Grid LP',0.18,18,0.4],['CH4 Grid LP',0.3,17,0.4],['CH4 Grid LP',0.42,16,0.5],
  ['CH4 Grid LP',0.5,17.5,0.5],['CH4 Grid LP',0.58,18.5,0.5],['CH4 Grid LP',0.62,16.8,0.6],['CH4 Grid LP',0.72,16,1],['CH4 Grid LP',0.75,18,0.6],
  ['CH4 Grid LP',0.85,19,0.5],['CH4 Grid LP',0.95,17,0.5],['CH4 Grid LP',1.3,17.5,0.5],['CH4 Grid LP',0.25,19.5,0.4],['CH4 Grid LP',0.55,15,0.5],
  ['CH4 Grid HP',0.54,8.8,0.6],['CH4 Grid HP',0.6,8.8,0.6],['CH4 Grid HP',0.68,8.8,0.6],['CH4 Grid HP',0.78,8.8,0.6],['CH4 Grid HP',0.9,8.8,0.6],
  ['CH4 Grid HP',1.05,8.8,2],['CH4 Grid HP',1.15,8.8,0.6],['CH4 Grid HP',1.55,8.8,0.6],['CH4 Grid HP',1.3,3.8,0.6],['CH4 Grid HP',1.5,3.5,0.6],
  ['CH4 Grid HP',1.2,4.2,0.6],['CH4 Grid HP',0.9,3.0,0.6],
  ['CH4 Comp. MH',0.1,2.1,1],['CH4 Comp. MH',0.1,1.9,1],['CH4 Comp. MH',0.11,1.7,0.6],['CH4 Comp. MH',0.12,2.2,0.6],['CH4 Comp. MH',0.13,1.5,0.6],
  ['CH4 Comp. MH',0.14,1.9,0.6],['CH4 Comp. MH',0.15,1.3,0.6],['CH4 Comp. MH',0.16,2.1,0.6],['CH4 Comp. MH',0.17,1.6,0.6],['CH4 Comp. MH',0.18,1.4,0.6],
  ['CH4 Comp. MH',0.19,1.8,0.6],['CH4 Comp. MH',0.2,2.3,0.6],['CH4 Comp. MH',0.21,1.25,0.6],['CH4 Comp. MH',0.22,1.55,0.6],['CH4 Comp. MH',0.24,1.95,0.6],
  ['CH4 Comp. MH',0.25,1.35,0.6],['CH4 Comp. MH',0.27,1.7,0.6],['CH4 Comp. MH',0.28,2.2,0.6],['CH4 Comp. MH',0.3,1.45,0.6],['CH4 Comp. MH',0.32,1.85,0.6],
  ['CH4 Comp. MH',0.33,1.3,0.6],['CH4 Comp. MH',0.35,1.6,0.6],['CH4 Comp. MH',0.37,2.0,0.6],['CH4 Comp. MH',0.39,1.4,0.6],['CH4 Comp. MH',0.41,1.75,0.6],
  ['CH4 Comp. MH',0.43,1.25,0.6],['CH4 Comp. MH',0.45,1.55,0.6],['CH4 Comp. MH',0.47,1.95,0.6],['CH4 Comp. MH',0.5,1.35,0.6],['CH4 Comp. MH',0.52,1.7,0.6],
  ['CH4 Comp. MH',0.55,1.45,0.6],['CH4 Comp. MH',0.58,2.1,0.6],['CH4 Comp. MH',0.6,1.6,0.6],['CH4 Comp. MH',0.65,1.85,0.6],['CH4 Comp. MH',0.7,1.5,0.6],
  ['CH4 Comp. MH',0.75,2.2,0.6],['CH4 Comp. MH',0.8,1.7,0.6],['CH4 Comp. MH',0.9,1.95,0.6],['CH4 Comp. MH',1.0,2.1,0.6],['CH4 Comp. MH',1.1,1.6,0.6],
  ['CH4 Comp. MH',1.2,1.9,0.6],['CH4 Comp. MH',0.12,1.2,0.6],['CH4 Comp. MH',0.2,1.15,0.6],['CH4 Comp. MH',0.3,1.2,0.6],['CH4 Comp. MH',0.4,1.2,0.6],
  ['CH4 Exp. ML',0.1,3.3,0.6],['CH4 Exp. ML',0.13,3.0,0.6],['CH4 Exp. ML',0.15,3.4,0.6],['CH4 Exp. ML',0.18,2.8,0.6],['CH4 Exp. ML',0.2,3.2,0.6],
  ['CH4 Exp. ML',0.23,2.6,0.6],['CH4 Exp. ML',0.26,3.0,0.6],['CH4 Exp. ML',0.3,2.7,0.6],['CH4 Exp. ML',0.33,3.3,0.6],['CH4 Exp. ML',0.36,2.5,0.6],
  ['CH4 Exp. ML',0.4,2.9,0.6],['CH4 Exp. ML',0.44,3.2,1],['CH4 Exp. ML',0.48,2.7,1],['CH4 Exp. ML',0.52,3.0,1],['CH4 Exp. ML',0.56,3.4,0.6],
  ['CH4 Exp. ML',0.45,3.6,0.6],['CH4 Exp. ML',0.62,3.1,1],['CH4 Exp. ML',0.66,3.5,0.6],['CH4 Exp. ML',0.55,3.8,0.6],['CH4 Exp. ML',0.75,3.3,0.6],
  ['CH4 Exp. ML',0.58,2.7,5],['CH4 Exp. ML',0.62,2.5,5],['CH4 Exp. ML',0.66,2.8,6],['CH4 Exp. ML',0.7,2.6,7],['CH4 Exp. ML',0.74,2.4,6],
  ['CH4 Exp. ML',0.78,2.75,6],['CH4 Exp. ML',0.82,2.55,6],['CH4 Exp. ML',0.86,2.85,5],['CH4 Exp. ML',0.9,2.5,6],['CH4 Exp. ML',0.95,2.7,7],
  ['CH4 Exp. ML',1.0,2.55,7],['CH4 Exp. ML',1.05,2.8,6],['CH4 Exp. ML',1.1,2.45,4],['CH4 Exp. ML',1.12,2.7,4],['CH4 Exp. ML',0.58,2.4,3],
  ['CH4 Exp. ML',0.7,2.35,3],['CH4 Exp. ML',0.9,2.3,3],['CH4 Exp. ML',1.0,2.95,3],['CH4 Exp. ML',0.8,2.95,3],
  ['CH4 Grid MP',1.63,3.5,3],['CH4 Grid MP',1.6,3.9,2],['CH4 Grid MP',1.7,3.2,2],['CH4 Grid MP',1.5,3.3,2],['CH4 Grid MP',1.75,3.7,2],
  ['CH4 Grid MP',1.4,3.6,1],['CH4 Grid MP',1.55,4.2,1],['CH4 Grid MP',1.7,2.9,1],['CH4 Grid MP',1.45,2.8,1],['CH4 Grid MP',1.3,3.1,1],
  ['CH4 Grid MP',1.2,2.9,1],['CH4 Grid MP',1.65,4.5,1],['CH4 Grid MP',1.1,3.4,1],['CH4 Grid MP',1.0,3.1,1],['CH4 Grid MP',1.8,3.4,1],
  ['CH4 Grid MP',1.35,2.6,1],['CH4 Grid MP',1.2,2.5,1],
  ['CH4 Grid MP',0.1,1.2,2],['CH4 Grid MP',0.1,1.27,3],['CH4 Grid MP',0.1,1.34,4],['CH4 Grid MP',0.1,1.41,5],['CH4 Grid MP',0.1,1.48,5],
  ['CH4 Grid MP',0.1,1.55,4],['CH4 Grid MP',0.1,1.63,3],['CH4 Grid MP',0.1,1.72,2],['CH4 Grid MP',0.1,1.84,2],
  ['CH4 Grid EHP',0.1,1.4,2],['CH4 Grid EHP',0.1,1.55,2],['CH4 Grid EHP',0.45,2.5,0.6],['CH4 Grid EHP',0.55,2.7,0.6],['CH4 Grid EHP',0.6,2.3,0.6],
  ['CH4 Grid EHP',0.7,2.9,0.6],['CH4 Grid EHP',0.8,2.6,0.6],['CH4 Grid EHP',0.9,2.8,0.6],['CH4 Grid EHP',0.35,2.2,0.6],['CH4 Grid EHP',0.25,2.4,0.6],
  ['CH4 Grid EHP',1.0,2.5,0.6],
  ['CH4 Exp. EH',0.2,2.9,0.6],['CH4 Exp. EH',0.25,3.3,0.6],['CH4 Exp. EH',0.3,2.5,0.6],['CH4 Exp. EH',0.35,3.0,0.6],['CH4 Exp. EH',0.4,2.2,0.6],
  ['CH4 Exp. EH',0.45,2.6,0.6],['CH4 Exp. EH',0.5,3.5,0.6],['CH4 Exp. EH',0.55,2.4,0.6],['CH4 Exp. EH',0.6,3.0,0.6],['CH4 Exp. EH',0.65,3.6,0.6],
  ['CH4 Exp. EH',0.7,3.2,0.6],['CH4 Exp. EH',0.8,3.8,0.6],['CH4 Exp. EH',0.9,3.4,0.6],['CH4 Exp. EH',0.42,2.9,0.6],['CH4 Exp. EH',0.3,2.1,0.6],
  ['CH4 Exp. HM',0.3,2.0,0.6],['CH4 Exp. HM',0.4,1.85,0.6],['CH4 Exp. HM',0.5,2.2,0.6],['CH4 Exp. HM',0.6,1.9,0.6],['CH4 Exp. HM',0.7,2.1,0.6],
  ['CH4 Exp. HM',0.5,1.7,0.6],['CH4 Exp. HM',0.8,2.4,0.6],['CH4 Exp. HM',0.1,3.1,0.6],['CH4 Exp. HM',0.1,2.9,0.6],
  ['CH4 Comp. HE',0.543,1.3,3],['CH4 Comp. HE',0.543,1.34,4],['CH4 Comp. HE',0.543,1.38,5],['CH4 Comp. HE',0.543,1.42,6],['CH4 Comp. HE',0.543,1.46,6],
  ['CH4 Comp. HE',0.543,1.5,5],['CH4 Comp. HE',0.543,1.55,3],
  ['CH4 Exp. Cogen. EH',0.1,1.0,0.6],['CH4 Exp. Cogen. EH',0.12,0.97,0.6],['CH4 Exp. Cogen. EH',0.15,1.02,0.6],['CH4 Exp. Cogen. EH',0.2,0.98,0.6],['CH4 Exp. Cogen. EH',0.11,1.05,0.6]
]
const gasTop = []
const gasSide = [
  ['CH4 Grid LP',25.4,0.14],['CH4 Grid LP',23,0.2],['CH4 Grid LP',22,0.245],['CH4 Grid LP',20,0.16],['CH4 Grid LP',18.3,0.065],
  ['CH4 Grid LP',16.5,0.12],['CH4 Grid LP',14.4,0.207],['CH4 Grid LP',12.5,0.12],['CH4 Grid LP',11,0],
  ['CH4 Grid HP',9.8,0],['CH4 Grid HP',9.4,0.01],['CH4 Grid HP',9.0,0],
  ['CH4 Storage',0.93,0],['CH4 Storage',0.85,0.2],['CH4 Storage',0.7,0.3],['CH4 Storage',0.6,0.15],['CH4 Storage',0.5,0.03],['CH4 Storage',0.47,0],
  ['CH4 Grid MP',4.8,0],['CH4 Grid MP',4.0,0.1],['CH4 Grid MP',3.4,0.3],['CH4 Grid MP',3.05,0.375],['CH4 Grid MP',2.7,0.3],['CH4 Grid MP',2.2,0.12],['CH4 Grid MP',1.6,0.04],['CH4 Grid MP',1.14,0],
  ['CH4 Exp. ML',4.2,0],['CH4 Exp. ML',3.5,0.15],['CH4 Exp. ML',3.0,0.395],['CH4 Exp. ML',2.7,0.3],['CH4 Exp. ML',2.3,0.1],['CH4 Exp. ML',1.9,0],
  ['CH4 Exp. HM',3.6,0],['CH4 Exp. HM',3.0,0.2],['CH4 Exp. HM',2.54,0.3],['CH4 Exp. HM',2.2,0.2],['CH4 Exp. HM',1.8,0.05],['CH4 Exp. HM',1.5,0],
  ['CH4 Comp. MH',2.4,0],['CH4 Comp. MH',2.0,0.12],['CH4 Comp. MH',1.7,0.3],['CH4 Comp. MH',1.57,0.387],['CH4 Comp. MH',1.4,0.25],['CH4 Comp. MH',1.2,0.08],['CH4 Comp. MH',1.05,0],
  ['CH4 Grid EHP',2.2,0],['CH4 Grid EHP',1.8,0.15],['CH4 Grid EHP',1.57,0.272],['CH4 Grid EHP',1.35,0.2],['CH4 Grid EHP',1.15,0.05],['CH4 Grid EHP',1.0,0],
  ['CH4 Exp. EH',2.2,0],['CH4 Exp. EH',1.9,0.1],['CH4 Exp. EH',1.7,0.12],['CH4 Exp. EH',1.5,0.05],['CH4 Exp. EH',1.3,0],
  ['CH4 Comp. HE',1.6,0],['CH4 Comp. HE',1.45,0.08],['CH4 Comp. HE',1.3,0.05],['CH4 Comp. HE',1.15,0],
  ['CH4 Exp. Cogen. EH',1.09,0],['CH4 Exp. Cogen. EH',1.06,0.3],['CH4 Exp. Cogen. EH',1.02,0.8],['CH4 Exp. Cogen. EH',0.99,1],
  ['CH4 Exp. Cogen. EH',0.97,0.4],['CH4 Exp. Cogen. EH',0.94,0.1],['CH4 Exp. Cogen. EH',0.91,0]
]

// ---------- styles & label placement ----------
const palette = {
  'PV LV': '#ff3b3b', 'Wind': '#e04848', 'Hydro Dam': '#8f8f8f', 'Hydro River': '#3d8e93', 'New Hydro Dam': '#3aaba5',
  'New Hydro River': '#a86666', 'PV EHV': '#d4d4d4', 'PV HV': '#4f6567', 'PV MV': '#45b3ab',
  'Direct Electric': '#d2d2d2', 'DEC Air Conditioning': '#7b7070', 'Boiler CH4': '#867a7a', 'HP Elec': '#ff2e2e',
  'Deep Geoth.': '#3b9c9e', 'Boiler Oil': '#3ab5b3', 'Cogen Waste': '#d84545', 'THHP Gas': '#4f8484',
  'Grid LV': '#a0a0a0', 'Grid MV': '#5a5a5a', 'Grid HV': '#2f7374', 'Transformer MV-LV': '#ff3030',
  'Transformer MV-HV': '#5f8f8c', 'Transformer HV-MV': '#b25858', 'Transformer LV-MV': '#e84545',
  'Transformer HV-EHV': '#3cb3ae', 'Grid EHV': '#3a9a9a', 'Storage Hydro': '#d8d8d8',
  'CH4 Grid LP': '#5e918b', 'CH4 Grid HP': '#d04848', 'CH4 Exp. ML': '#2f9395', 'CH4 Grid EHP': '#e03b3b',
  'CH4 Grid MP': '#8c6b6b', 'CH4 Comp. MH': '#5b5b5b', 'CH4 Exp. EH': '#3cc0b8', 'CH4 Exp. HM': '#38aca8',
  'CH4 Comp. HE': '#4d6a6a', 'CH4 Exp. Cogen. EH': '#3a9a9a', 'CH4 Storage': '#cfcfcf'
}

// in-plot boxed labels: [category, centralized, decentralized]
const renewTags = [['PV LV',5.66,32],['Wind',24.8,26],['Hydro Dam',7.76,8.36],['Hydro River',3.6,3.68],['New Hydro Dam',0.183,0.356],
  ['New Hydro River',0.355,0.108],['PV EHV',2.06,0.093],['PV HV',5.9,0.093],['PV MV',18.8,0.131]]
const heatTags = [['Direct Electric',0.174,13.7],['DEC Air Conditioning',0.16,7.85],['Boiler CH4',0.48,4.58],['HP Elec',14.1,7.57],
  ['Deep Geoth.',2.06,2.14],['Boiler Oil',0.125,1.34],['Cogen Waste',0.129,0.75],['THHP Gas',1.05,0.099]]
const gridTags = [['Grid LV',8.05,24.8],['Grid MV',12.5,13.05],['Grid HV',4.46,10.9],['Transformer MV-LV',14,7.28],['Transformer MV-HV',0.645,5.75],
  ['Transformer HV-MV',3.7,4.8],['Transformer HV-EHV',1.25,1.58],['Grid EHV',0.826,1.05],['Storage Hydro',0.546,0.689]]
const gasTags = [['CH4 Grid LP',0.372,14.1],['CH4 Grid HP',1.17,4.95],['CH4 Exp. ML',0.254,3.93],['CH4 Grid EHP',0.78,3.29],['CH4 Grid MP',2.4,2.87],
  ['CH4 Comp. MH',0.1675,2.61],['CH4 Exp. EH',0.532,2.07],['CH4 Exp. HM',0.451,1.75],['CH4 Comp. HE',0.88,1.16],
  ['CH4 Exp. Cogen. EH',0.223,0.919],['CH4 Storage',0.158,0.576]]
// margin labels: top [category, value, lift px, target value, target lift]; side [category, value, offset px, target value, target offset]
const renewTopTags = [['New Hydro River',0.5,56,0.7,6],['Hydro River',1.59,56],['PV LV',0.19,10],['PV EHV',1.42,10],['Hydro Dam',3.44,10],
  ['PV HV',7.64,27],['PV MV',14.6,34],['Wind',26.7,10]]
const renewSideTags = [['PV LV',38.5,18],['Wind',18.2,18],['Hydro Dam',6.2,42],['Hydro River',2.77,20],['New Hydro Dam',0.49,8]]
const heatTopTags = [['Boiler Oil',0.144,248],['Boiler CH4',0.395,29],['Deep Geoth.',0.94,26],['THHP Gas',2.2,23],['HP Elec',14.8,25]]
const heatSideTags = [['Direct Electric',15.7,16],['HP Elec',9.2,16],['DEC Air Conditioning',7.05,23],['Boiler CH4',5.3,16],
  ['Deep Geoth.',2.06,16],['Boiler Oil',0.73,16],['Cogen Waste',0.53,16]]
const gridTopTags = [['Transformer HV-EHV',0.505,120,0.88,57],['Transformer MV-LV',17.6,113,6.47,7],['Transformer HV-MV',1.9,72,2.87,5],
  ['Grid LV',7.64,65,6.47,10],['Storage Hydro',0.434,25],['Grid EHV',1.38,19],['Grid HV',4.12,25],['Grid MV',14.0,17],
  ['Transformer MV-HV',0.151,10,0.46,2]]
const gridSideTags = [['Grid LV',25.4,17],['Grid MV',13.1,17],['Transformer MV-LV',9.95,17],['Grid HV',7.7,3],['Transformer MV-HV',5.08,13],
  ['Transformer HV-MV',3.9,14],['Transformer LV-MV',2.92,13],['Grid EHV',1.42,112],['Transformer HV-EHV',1.03,7],['Storage Hydro',0.79,3]]
const gasTopTags = [['CH4 Storage',0.195,25],['CH4 Grid MP',1.26,25]]
const gasSideTags = [['CH4 Grid LP',23,16],['CH4 Grid MP',3.51,0],['CH4 Exp. ML',2.73,31],['CH4 Grid HP',2.2,112,2.37,28],['CH4 Exp. HM',2.03,0],
  ['CH4 Exp. EH',1.71,96,2.2,30],['CH4 Grid EHP',1.33,39],['CH4 Exp. Cogen. EH',0.88,23],['CH4 Storage',0.676,50]]

const panels = [
  { key: '(a)', title: ' Renewable Energy', px: 256, py: 387, lo: -1.137, hi: 1.932, titleX: 896, titleY: 1856,
    points: renewPoints, tags: renewTags, topDens: renewTop, sideDens: renewSide, topTags: renewTopTags, sideTags: renewSideTags,
    topBase: 312, topFrom: 0.1, topTo: 63, topH: 240, sideBase: 1470, sideFrom: 68, sideTo: 0.092, sideW: 263 },
  { key: '(b)', title: ' Low Temperature Heating', px: 2046, py: 387, lo: -1.111, hi: 1.348, titleX: 2685, titleY: 1856,
    points: heatPoints, tags: heatTags, topDens: heatTop, sideDens: heatSide, topTags: heatTopTags, sideTags: heatSideTags,
    topBase: 312, topFrom: 0.1, topTo: 17.3, topH: 80, sideBase: 3260, sideFrom: 18.6, sideTo: 0.094, sideW: 261 },
  { key: '(c)', title: ' Electric infrastructure', px: 320, py: 2312, lo: -1.118, hi: 1.533, titleX: 961, titleY: 3780,
    points: gridPoints, tags: gridTags, topDens: gridTop, sideDens: gridSide, topTags: gridTopTags, sideTags: gridSideTags,
    topBase: 2235, topFrom: 0.082, topTo: 25.7, topH: 44, sideBase: 1533, sideFrom: 27.9, sideTo: 0.093, sideW: 264 },
  { key: '(d)', title: ' Gas Infrastructure', px: 2109, py: 2312, lo: -1.118, hi: 1.49, titleX: 2750, titleY: 3780,
    points: gasPoints, tags: gasTags, topDens: gasTop, sideDens: gasSide, topTags: gasTopTags, sideTags: gasSideTags,
    topBase: 2235, topFrom: 0.1, topTo: 23.8, topH: 0, sideBase: 3317, sideFrom: 25.4, sideTo: 0.093, sideW: 261 }
]
const SIZE = 1153

const svg = d3.select('#chart')

function segStart(cx, cy, w, h, tx, ty) {
  // point on label box edge towards the target
  const dx = tx - cx, dy = ty - cy
  const t = Math.min(Math.abs(dx) > 0 ? (w / 2) / Math.abs(dx) : 1e9, Math.abs(dy) > 0 ? (h / 2) / Math.abs(dy) : 1e9, 1)
  return [cx + dx * t, cy + dy * t]
}

function drawPanel(p, idx) {
  const root = svg.append('g')
  const dom = [Math.pow(10, p.lo), Math.pow(10, p.hi)]
  const x = d3.scaleLog().domain(dom).range([p.px, p.px + SIZE])
  const y = d3.scaleLog().domain(dom).range([p.py + SIZE, p.py])
  const right = p.px + SIZE, bottom = p.py + SIZE

  // grid
  const minor = [-1.5, -0.5, 0.5, 1.5].map(e => Math.pow(10, e)).filter(v => v > dom[0] && v < dom[1])
  const grid = root.append('g')
  grid.selectAll('.vmin').data(minor).join('line')
    .attr('x1', d => x(d)).attr('x2', d => x(d)).attr('y1', p.py).attr('y2', bottom)
    .attr('stroke', '#ebebeb').attr('stroke-width', 1.5)
  grid.selectAll('.hmin').data(minor).join('line')
    .attr('y1', d => y(d)).attr('y2', d => y(d)).attr('x1', p.px).attr('x2', right)
    .attr('stroke', '#ebebeb').attr('stroke-width', 1.5)
  grid.selectAll('.vmaj').data(ticks).join('line')
    .attr('x1', d => x(d)).attr('x2', d => x(d)).attr('y1', p.py).attr('y2', bottom)
    .attr('stroke', '#dedede').attr('stroke-width', 3)
  grid.selectAll('.hmaj').data(ticks).join('line')
    .attr('y1', d => y(d)).attr('y2', d => y(d)).attr('x1', p.px).attr('x2', right)
    .attr('stroke', '#dedede').attr('stroke-width', 3)

  // points
  const clipId = 'clip' + idx
  root.append('clipPath').attr('id', clipId).append('rect')
    .attr('x', p.px).attr('y', p.py).attr('width', SIZE).attr('height', SIZE)
  root.append('g').attr('clip-path', `url(#${clipId})`)
    .selectAll('circle').data(p.points).join('circle')
    .attr('cx', d => x(d[1])).attr('cy', d => y(d[2])).attr('r', 10)
    .attr('fill', d => palette[d[0]])
    .attr('fill-opacity', d => 1 - Math.pow(0.9, d[3]))

  // identity line
  root.append('line')
    .attr('x1', x(dom[0])).attr('y1', y(dom[0])).attr('x2', x(dom[1])).attr('y2', y(dom[1]))
    .attr('stroke', '#000').attr('stroke-width', 4)

  // border
  root.append('rect').attr('x', p.px).attr('y', p.py).attr('width', SIZE).attr('height', SIZE)
    .attr('fill', 'none').attr('stroke', '#b3b3b3').attr('stroke-width', 3)

  // axes
  const ax = root.append('g').attr('transform', `translate(0,${bottom})`)
    .call(d3.axisBottom(x).tickValues(ticks).tickFormat((d, i) => tickText[i]).tickSize(10).tickPadding(10))
  const ay = root.append('g').attr('transform', `translate(${p.px},0)`)
    .call(d3.axisLeft(y).tickValues(ticks).tickFormat((d, i) => tickText[i]).tickSize(10).tickPadding(10))
  for (const a of [ax, ay]) {
    a.select('.domain').remove()
    a.selectAll('line').attr('stroke', '#b3b3b3').attr('stroke-width', 2.5)
    a.selectAll('text').attr('font-size', 36).attr('fill', '#4d4d4d')
  }
  const cx = p.px + SIZE / 2, cy = p.py + SIZE / 2
  root.append('text').attr('x', cx).attr('y', bottom + 85).attr('text-anchor', 'middle')
    .attr('dominant-baseline', 'central').attr('font-size', 46).text('Centralized')
  root.append('text').attr('x', cx).attr('y', bottom + 136).attr('text-anchor', 'middle')
    .attr('dominant-baseline', 'central').attr('font-size', 46).text('[GW]')
  root.append('text').attr('transform', `translate(${p.px - 180},${cy}) rotate(-90)`).attr('text-anchor', 'middle')
    .attr('dominant-baseline', 'central').attr('font-size', 46).text('Decentralized')
  root.append('text').attr('transform', `translate(${p.px - 128},${cy}) rotate(-90)`).attr('text-anchor', 'middle')
    .attr('dominant-baseline', 'central').attr('font-size', 46).text('[GW]')

  // boxed labels
  const tagG = root.append('g')
  p.tags.forEach(t => {
    const g = tagG.append('g')
    const tx = x(t[1]), ty = y(t[2])
    const txt = g.append('text').attr('x', tx).attr('y', ty).attr('text-anchor', 'middle')
      .attr('dominant-baseline', 'central').attr('font-size', 24).attr('fill', palette[t[0]]).text(t[0])
    const w = txt.node().getBBox().width + 34, h = 46
    g.insert('rect', 'text').attr('x', tx - w / 2).attr('y', ty - h / 2).attr('width', w).attr('height', h)
      .attr('rx', 7).attr('fill', '#fff').attr('fill-opacity', 0.72)
      .attr('stroke', palette[t[0]]).attr('stroke-width', 2.6)
  })

  // top marginal densities
  const topArea = d3.area().x(d => x(d[1])).y0(p.topBase).y1(d => p.topBase - d[2] * p.topH).curve(d3.curveMonotoneX)
  d3.groups(p.topDens, d => d[0]).forEach(([cat, rows]) => {
    rows = rows.slice().sort((a, b) => a[1] - b[1])
    root.append('path').attr('d', topArea(rows)).attr('fill', palette[cat]).attr('fill-opacity', 0.5)
      .attr('stroke', palette[cat]).attr('stroke-opacity', 0.5).attr('stroke-width', 1.2)
  })
  root.append('line').attr('x1', x(p.topFrom)).attr('x2', x(p.topTo)).attr('y1', p.topBase).attr('y2', p.topBase)
    .attr('stroke', '#8fa3a3').attr('stroke-width', 2)

  // side marginal densities
  const sideArea = d3.area().y(d => y(d[1])).x0(p.sideBase).x1(d => p.sideBase + d[2] * p.sideW).curve(d3.curveMonotoneY)
  d3.groups(p.sideDens, d => d[0]).forEach(([cat, rows]) => {
    rows = rows.slice().sort((a, b) => b[1] - a[1])
    root.append('path').attr('d', sideArea(rows)).attr('fill', palette[cat]).attr('fill-opacity', 0.5)
      .attr('stroke', palette[cat]).attr('stroke-opacity', 0.5).attr('stroke-width', 1.2)
  })
  root.append('line').attr('y1', y(p.sideFrom)).attr('y2', y(p.sideTo)).attr('x1', p.sideBase).attr('x2', p.sideBase)
    .attr('stroke', '#a9b3b3').attr('stroke-width', 2)

  // margin labels
  const segG = root.append('g'), txtG = root.append('g')
  p.topTags.forEach(t => {
    const tx = x(t[1]), ty = p.topBase - t[2]
    const txt = txtG.append('text').attr('x', tx).attr('y', ty).attr('text-anchor', 'middle')
      .attr('dominant-baseline', 'central').attr('font-size', 24).attr('fill', palette[t[0]]).text(t[0])
    if (t.length > 3) {
      const w = txt.node().getBBox().width + 8, gx = x(t[3]), gy = p.topBase - t[4]
      const s = segStart(tx, ty, w, 30, gx, gy)
      segG.append('line').attr('x1', s[0]).attr('y1', s[1]).attr('x2', gx).attr('y2', gy)
        .attr('stroke', '#ececec').attr('stroke-width', 5).attr('stroke-linecap', 'round')
    }
  })
  p.sideTags.forEach(t => {
    const tx = p.sideBase + t[2], ty = y(t[1])
    const txt = txtG.append('text').attr('x', tx).attr('y', ty).attr('text-anchor', 'start')
      .attr('dominant-baseline', 'central').attr('font-size', 24).attr('fill', palette[t[0]]).text(t[0])
    if (t.length > 3) {
      const w = txt.node().getBBox().width + 8, gx = p.sideBase + t[4], gy = y(t[3])
      const s = segStart(tx + w / 2 - 4, ty, w, 30, gx, gy)
      segG.append('line').attr('x1', s[0]).attr('y1', s[1]).attr('x2', gx).attr('y2', gy)
        .attr('stroke', '#ececec').attr('stroke-width', 5).attr('stroke-linecap', 'round')
    }
  })

  // caption
  const cap = root.append('text').attr('x', p.titleX).attr('y', p.titleY).attr('text-anchor', 'middle')
    .attr('dominant-baseline', 'central').attr('font-size', 80)
    .style('font-family', '"Liberation Serif", "DejaVu Serif", serif')
  cap.append('tspan').attr('font-weight', 'bold').text(p.key)
  cap.append('tspan').text(p.title)
}

panels.forEach(drawPanel)
</script>
</body>
</html>
